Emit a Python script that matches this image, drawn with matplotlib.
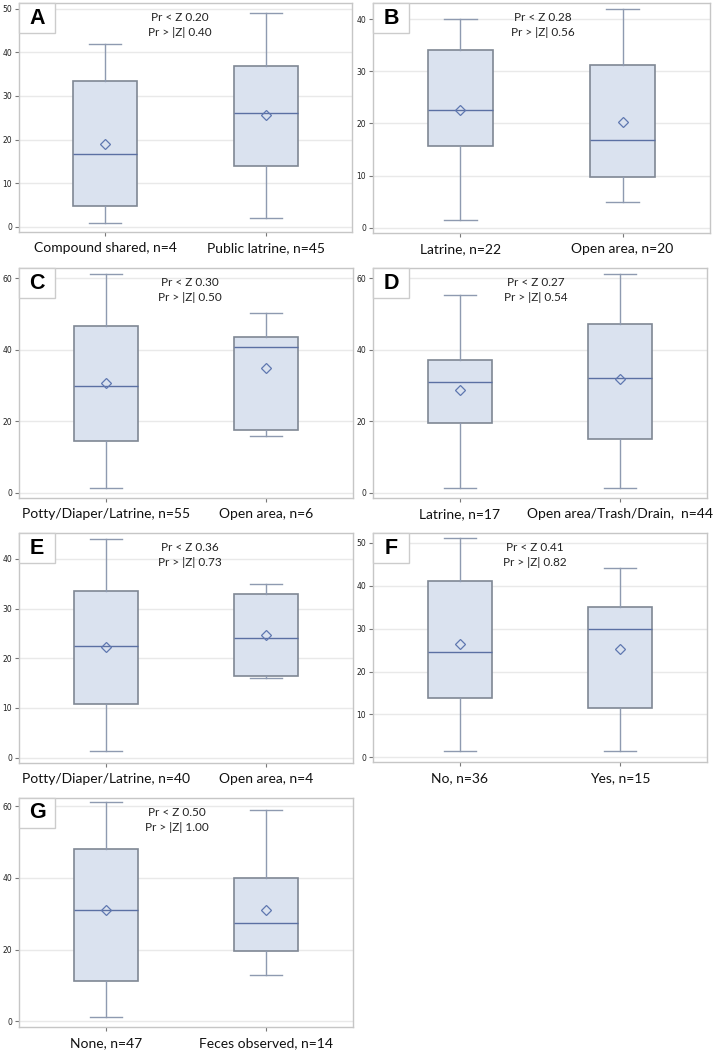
import matplotlib
matplotlib.use("Agg")
import matplotlib.pyplot as plt
from matplotlib.patches import Rectangle

# ---- data ----
letters = ["A", "B", "C", "D", "E", "F", "G"]
categories = [
    ["Compound shared, n=4", "Public latrine, n=45"],
    ["Latrine, n=22", "Open area, n=20"],
    ["Potty/Diaper/Latrine, n=55", "Open area, n=6"],
    ["Latrine, n=17", "Open area/Trash/Drain,  n=44"],
    ["Potty/Diaper/Latrine, n=40", "Open area, n=4"],
    ["No, n=36", "Yes, n=15"],
    ["None, n=47", "Feces observed, n=14"],
]
pr_z = ["0.20", "0.28", "0.30", "0.27", "0.36", "0.41", "0.50"]
pr_absz = ["0.40", "0.56", "0.50", "0.54", "0.73", "0.82", "1.00"]
# stats per group: (min, q1, median, q3, max, mean)
stats_A = [(1.0, 4.7, 16.7, 33.5, 42.0, 19.1), (2.1, 14.0, 26.0, 36.9, 49.0, 25.6)]
stats_B = [(1.5, 15.6, 22.5, 34.0, 40.0, 22.6), (5.0, 9.7, 16.8, 31.3, 42.0, 20.3)]
stats_C = [(1.4, 14.4, 30.0, 46.6, 61.1, 30.7), (16.0, 17.6, 40.8, 43.5, 50.2, 34.9)]
stats_D = [(1.3, 19.5, 31.0, 37.0, 55.2, 28.7), (1.3, 15.2, 32.1, 47.3, 61.1, 31.8)]
stats_E = [(1.4, 10.8, 22.5, 33.5, 44.0, 22.2), (16.0, 16.5, 24.0, 32.9, 35.0, 24.7)]
stats_F = [(1.5, 13.8, 24.6, 41.1, 51.1, 26.4), (1.5, 11.5, 29.9, 35.1, 44.2, 25.2)]
stats_G = [(1.3, 11.3, 31.0, 48.0, 61.1, 31.0), (12.9, 19.5, 27.5, 39.9, 59.0, 31.0)]
all_stats = [stats_A, stats_B, stats_C, stats_D, stats_E, stats_F, stats_G]
yticks = [
    [0, 10, 20, 30, 40, 50],
    [0, 10, 20, 30, 40],
    [0, 20, 40, 60],
    [0, 20, 40, 60],
    [0, 10, 20, 30, 40],
    [0, 10, 20, 30, 40, 50],
    [0, 20, 40, 60],
]
ylims = [(-1.15, 51.3), (-1.0, 43.1), (-1.4, 62.8), (-1.4, 62.8),
         (-1.1, 45.2), (-1.1, 52.3), (-1.6, 62.3)]

# layout in pixels: left, right, top, bottom
W, H = 717, 1064
boxes_px = [(19, 352, 3, 232), (373, 710, 3, 233),
            (19, 353, 268, 498), (373, 707, 268, 498),
            (19, 353, 533, 763), (373, 707, 533, 762),
            (19, 353, 798, 1027)]
text_x = [0.483, 0.504, 0.512, 0.488, 0.512, 0.485, 0.473]

fill_c = "#dae2ef"
edge_c = "#7f8794"
med_c = "#5b70a3"
whisk_c = "#8e9ab0"
mean_c = "#5f77b0"
frame_c = "#c6c6c6"
grid_c = "#e9e9e9"

fig = plt.figure(figsize=(W / 100, H / 100), dpi=100)
fig.patch.set_facecolor("white")

for i in range(7):
    l, r, t, b = boxes_px[i]
    ax = fig.add_axes([l / W, 1 - b / H, (r - l) / W, (b - t) / H])
    stats = all_stats[i]
    bxp = []
    for s in stats:
        bxp.append(dict(whislo=s[0], q1=s[1], med=s[2], q3=s[3], whishi=s[4],
                        mean=s[5], fliers=[]))
    ax.bxp(bxp, positions=[0, 1], widths=0.40, showmeans=True, patch_artist=True,
           boxprops=dict(facecolor=fill_c, edgecolor=edge_c, linewidth=1.2),
           medianprops=dict(color=med_c, linewidth=1.0),
           whiskerprops=dict(color=whisk_c, linewidth=1.0),
           capprops=dict(color=whisk_c, linewidth=1.0),
           capwidths=0.2,
           meanprops=dict(marker="D", markerfacecolor="none", markeredgecolor=mean_c,
                          markersize=5, markeredgewidth=0.9))
    ax.set_xlim(-0.54, 1.54)
    ax.set_ylim(*ylims[i])
    ax.set_yticks(yticks[i])
    ax.set_yticklabels([str(v) for v in yticks[i]])
    ax.set_xticks([0, 1])
    ax.set_xticklabels(categories[i], family=["Lato", "DejaVu Sans"], fontsize=10,
                       color="#111111")
    ax.tick_params(axis="y", labelsize=5.5, length=3, color="#777777",
                   labelcolor="#222222", pad=2, width=0.8)
    ax.tick_params(axis="x", length=3, color="#777777", pad=4.5, width=0.8)
    ax.yaxis.grid(True, color=grid_c, linewidth=1.0)
    ax.set_axisbelow(True)
    for sp in ax.spines.values():
        sp.set_color(frame_c)
        sp.set_linewidth(1.0)
    # letter box
    ax.add_patch(Rectangle((0, 1), 36 / (r - l), -30 / (b - t), transform=ax.transAxes,
                           facecolor="white", edgecolor="#cccccc", linewidth=1.0,
                           zorder=5, clip_on=False))
    ax.text(18 / (r - l), 1 - 15 / (b - t), letters[i], transform=ax.transAxes,
            ha="center", va="center", fontsize=15.5, fontweight="bold",
            family="Liberation Sans", color="black", zorder=6)
    ax.text(text_x[i], 1 - 14.5 / (b - t), "Pr < Z " + pr_z[i], transform=ax.transAxes,
            ha="center", va="center", fontsize=8.5, family=["Lato", "DejaVu Sans"],
            color="#222222", zorder=6)
    ax.text(text_x[i], 1 - 29.5 / (b - t), "Pr > |Z| " + pr_absz[i],
            transform=ax.transAxes, ha="center", va="center", fontsize=8.5,
            family=["Lato", "DejaVu Sans"], color="#222222", zorder=6)

fig.savefig("out.png", dpi=100)
